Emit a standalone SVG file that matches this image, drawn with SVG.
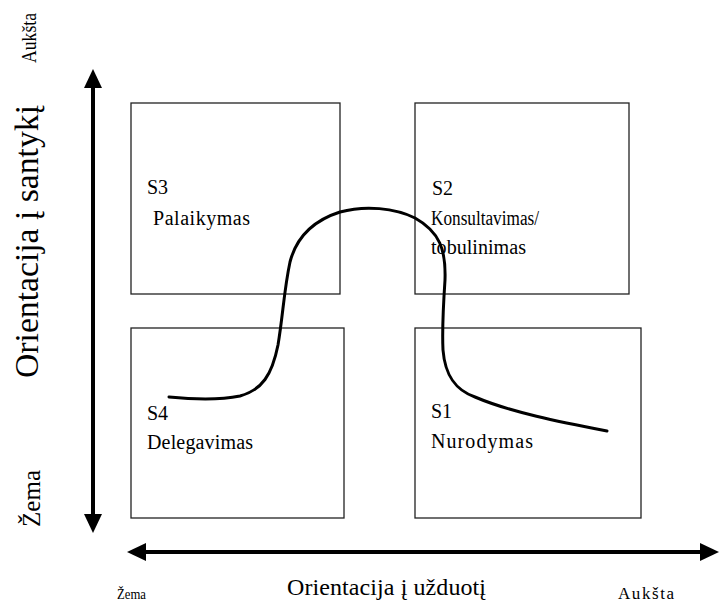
<svg xmlns="http://www.w3.org/2000/svg" width="719" height="602" viewBox="0 0 719 602">
<style>
.box{fill:#fff;stroke:#222;stroke-width:1.3}
.t{font-family:"Liberation Serif","Times New Roman","DejaVu Serif",serif;fill:#000}
.lbl{font-size:20px}
.axis{stroke:#000;stroke-width:4;fill:none}
.curve{stroke:#000;stroke-width:3;fill:none;stroke-linecap:round;stroke-linejoin:round}
</style>
<defs>
<marker id="ah" viewBox="0 0 19 18" refX="0" refY="9" markerWidth="19" markerHeight="18" markerUnits="userSpaceOnUse" orient="auto-start-reverse">
<path d="M0,0 L19,9 L0,18 Z" fill="#000"/>
</marker>
</defs>
<rect width="719" height="602" fill="#fff"/>
<g id="S3">
<rect class="box" x="131" y="103" width="209" height="191"/>
<text class="t lbl" x="147" y="194">S3</text>
<text class="t lbl" x="153" y="225" textLength="97" lengthAdjust="spacing">Palaikymas</text>
</g>
<g id="S2">
<rect class="box" x="415" y="103" width="214" height="191"/>
<text class="t lbl" x="432" y="195">S2</text>
<text class="t lbl" x="431" y="225" textLength="108" lengthAdjust="spacingAndGlyphs">Konsultavimas/</text>
<text class="t lbl" x="431" y="254" textLength="95" lengthAdjust="spacingAndGlyphs">tobulinimas</text>
</g>
<g id="S4">
<rect class="box" x="131" y="328" width="213" height="190"/>
<text class="t lbl" x="147" y="420">S4</text>
<text class="t lbl" x="147" y="449" textLength="106" lengthAdjust="spacing">Delegavimas</text>
</g>
<g id="S1">
<rect class="box" x="415" y="328" width="226" height="190"/>
<text class="t lbl" x="431" y="418">S1</text>
<text class="t lbl" x="431" y="448" textLength="102" lengthAdjust="spacing">Nurodymas</text>
</g>
<g id="connectors">
<line class="axis" x1="93" y1="88" x2="93" y2="514" marker-start="url(#ah)" marker-end="url(#ah)"/>
<line class="axis" x1="146" y1="552" x2="700" y2="552" marker-start="url(#ah)" marker-end="url(#ah)"/>
<path class="curve" d="M169,397 C190,399 220,400 240,396 C262,390 272,375 278,345 C283,315 284,290 290,262 C297,235 315,220 340,212 C365,205 395,208 415,218 C440,232 446,250 445,280 C443,310 442,330 443,350 C445,375 455,390 475,397 C510,412 560,422 607,431"/>
</g>
<g id="axis-labels">
<text class="t" font-size="22" transform="translate(36,63) rotate(-90)" textLength="50" lengthAdjust="spacingAndGlyphs">Aukšta</text>
<text class="t" font-size="34" transform="translate(38,378) rotate(-90)" textLength="273" lengthAdjust="spacingAndGlyphs">Orientacija į santykį</text>
<text class="t" font-size="26" transform="translate(40,527) rotate(-90)" textLength="57" lengthAdjust="spacingAndGlyphs">Žema</text>
<text class="t" font-size="14" x="117" y="599" textLength="29" lengthAdjust="spacingAndGlyphs">Žema</text>
<text class="t" font-size="24" x="287" y="595" textLength="199" lengthAdjust="spacing">Orientacija į užduotį</text>
<text class="t" font-size="17" x="618" y="599" textLength="56" lengthAdjust="spacing">Aukšta</text>
</g>
</svg>
